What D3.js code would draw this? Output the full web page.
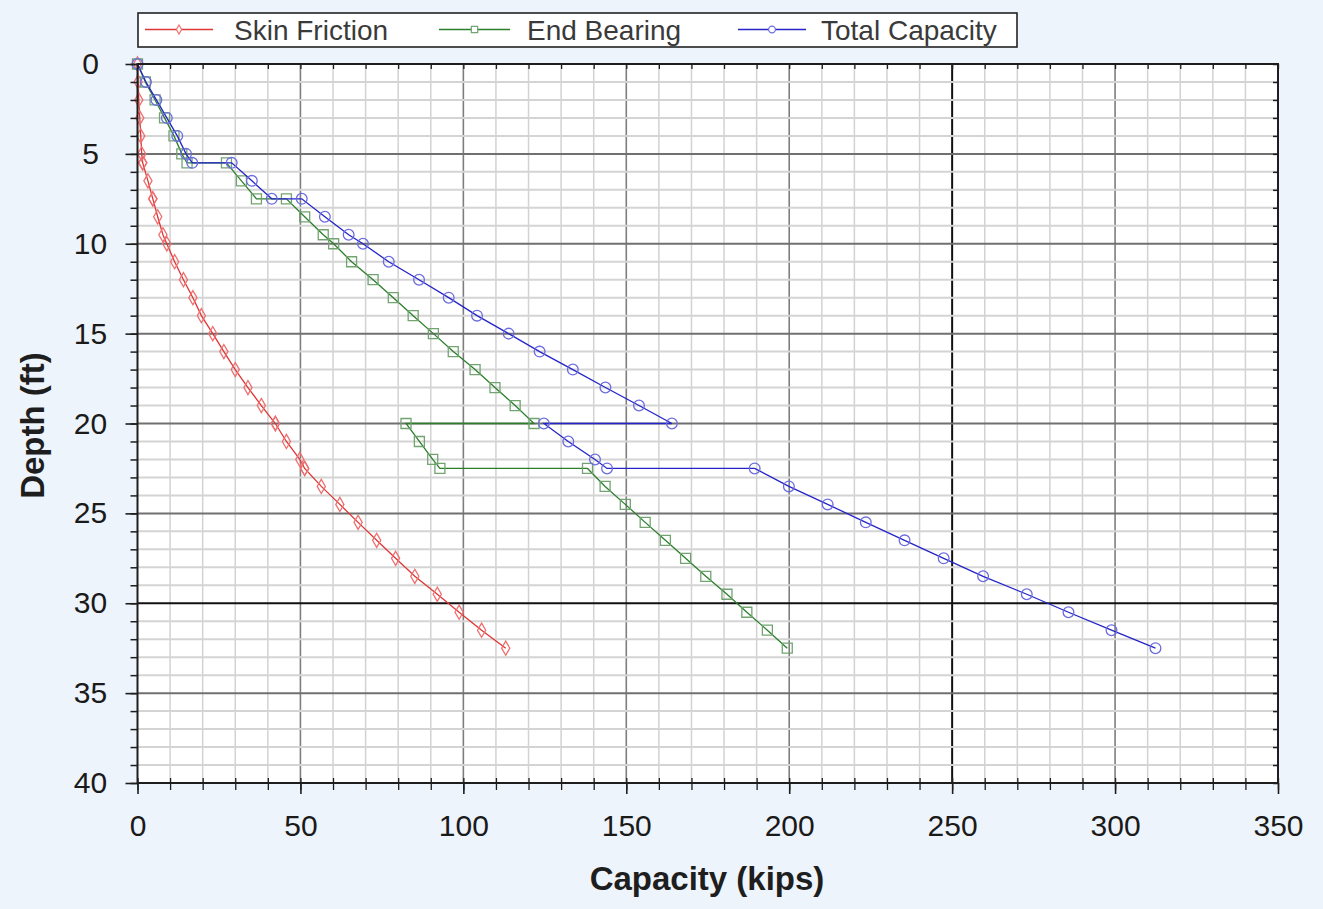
<!DOCTYPE html>
<html>
<head>
<meta charset="utf-8">
<script src="https://cdn.jsdelivr.net/npm/d3@7"></script>
<style>
  html, body { margin: 0; padding: 0; background: #eef4fb; }
  svg { display: block; font-family: "Liberation Sans", Arial, sans-serif; }
</style>
</head>
<body>
<svg id="chart" width="1323" height="909"></svg>
<script>
// Pile capacity vs. depth
const depthFt = [0, 1, 2, 3, 4, 5, 5.5, 5.5, 6.5, 7.5, 7.5, 8.5, 9.5, 10, 11, 12, 13, 14, 15, 16, 17, 18, 19, 20, 20, 21, 22, 22.5, 22.5, 23.5, 24.5, 25.5, 26.5, 27.5, 28.5, 29.5, 30.5, 31.5, 32.5];
const skinFriction = [0, 0.2, 0.4, 0.7, 1.0, 1.3, 1.6, 1.6, 3.2, 4.7, 4.7, 6.2, 7.8, 9.0, 11.4, 14.1, 17.0, 19.6, 23.1, 26.5, 30.0, 33.9, 38.0, 42.3, 42.3, 45.7, 49.8, 51.3, 51.3, 56.4, 62.1, 67.7, 73.4, 79.2, 85.1, 92.0, 98.7, 105.6, 113.0];
const endBearing = [0, 2.4, 5.4, 8.3, 11.2, 13.6, 15.2, 27.3, 31.9, 36.5, 45.7, 51.3, 57.0, 60.2, 65.7, 72.3, 78.5, 84.6, 90.8, 96.9, 103.6, 109.7, 115.9, 121.7, 82.4, 86.5, 90.6, 92.8, 138.1, 143.5, 149.7, 155.8, 162.0, 168.2, 174.4, 180.9, 187.0, 193.3, 199.4];
const totalCapacity = [0, 2.6, 5.8, 9.0, 12.2, 14.9, 16.8, 28.9, 35.1, 41.2, 50.4, 57.5, 64.8, 69.2, 77.1, 86.4, 95.5, 104.2, 113.9, 123.4, 133.6, 143.6, 153.9, 164.0, 124.7, 132.2, 140.4, 144.1, 189.4, 199.9, 211.8, 223.5, 235.4, 247.4, 259.5, 272.9, 285.7, 298.9, 312.4];

const seriesNames = ["Skin Friction", "End Bearing", "Total Capacity"];
const xTickValues = [0, 50, 100, 150, 200, 250, 300, 350];
const yTickValues = [0, 5, 10, 15, 20, 25, 30, 35, 40];
const xTitle = "Capacity (kips)";
const yTitle = "Depth (ft)";

const plot = { left: 137.5, right: 1278, top: 64, bottom: 783 };

const svg = d3.select("#chart");
const x = d3.scaleLinear().domain([0, 350]).range([plot.left, plot.right]);
const y = d3.scaleLinear().domain([0, 40]).range([plot.top, plot.bottom]);

// plot background
svg.append("rect")
  .attr("x", plot.left).attr("y", plot.top)
  .attr("width", plot.right - plot.left).attr("height", plot.bottom - plot.top)
  .attr("fill", "#ffffff");

const grid = svg.append("g");
const minorX = d3.range(0, 351, 10).filter(v => v % 50 !== 0);
const minorY = d3.range(0, 41, 1).filter(v => v % 5 !== 0);

// vertical grid
grid.selectAll(".vmin").data(minorX).enter().append("line")
  .attr("x1", d => x(d)).attr("x2", d => x(d))
  .attr("y1", plot.top).attr("y2", plot.bottom)
  .attr("stroke", "#d2d2d2").attr("stroke-width", 1.5);
grid.selectAll(".vmaj").data(xTickValues.filter(v => v > 0 && v < 350)).enter().append("line")
  .attr("x1", d => x(d)).attr("x2", d => x(d))
  .attr("y1", plot.top).attr("y2", plot.bottom)
  .attr("stroke", d => d === 250 ? "#111111" : "#7e7e7e")
  .attr("stroke-width", d => d === 250 ? 2 : 1.6);

// horizontal grid
grid.selectAll(".hmin").data(minorY).enter().append("line")
  .attr("x1", plot.left).attr("x2", plot.right)
  .attr("y1", d => y(d)).attr("y2", d => y(d))
  .attr("stroke", "#d4d4d4").attr("stroke-width", 2);
grid.selectAll(".hmaj").data(yTickValues.filter(v => v > 0 && v < 40)).enter().append("line")
  .attr("x1", plot.left).attr("x2", plot.right)
  .attr("y1", d => y(d)).attr("y2", d => y(d))
  .attr("stroke", d => d === 30 ? "#111111" : "#707070")
  .attr("stroke-width", 2);

// series
const rows = depthFt.map((d, i) => ({ depth: d, skin: skinFriction[i], end: endBearing[i], total: totalCapacity[i] }));
const series = [
  { name: seriesNames[0], key: "skin",  line: "#e03535", mark: "#ee7070", shape: d3.symbolDiamond, size: 58 },
  { name: seriesNames[1], key: "end",   line: "#2a7f2a", mark: "#72a472", shape: d3.symbolSquare,  size: 100 },
  { name: seriesNames[2], key: "total", line: "#2424c8", mark: "#6c6ce0", shape: d3.symbolCircle,  size: 90 }
];

series.forEach(s => {
  const g = svg.append("g");
  const line = d3.line().x(r => x(r[s.key])).y(r => y(r.depth));
  g.append("path").datum(rows)
    .attr("d", line)
    .attr("fill", "none")
    .attr("stroke", s.line)
    .attr("stroke-width", 1.3);
  g.selectAll("path.m").data(rows).enter().append("path")
    .attr("class", "m")
    .attr("transform", r => `translate(${x(r[s.key])},${y(r.depth)})`)
    .attr("d", d3.symbol().type(s.shape).size(s.size))
    .attr("fill", "none")
    .attr("stroke", s.mark)
    .attr("stroke-width", 1.3);
});

// frame
svg.append("rect")
  .attr("x", plot.left).attr("y", plot.top)
  .attr("width", plot.right - plot.left).attr("height", plot.bottom - plot.top)
  .attr("fill", "none").attr("stroke", "#1e1e1e").attr("stroke-width", 2);

const tickColor = "#1e1e1e";

// bottom axis
const xAxisMinor = svg.append("g").attr("transform", `translate(0,${plot.bottom})`)
  .call(d3.axisBottom(x).tickValues(d3.range(0, 351, 10)).tickSize(7).tickFormat(""));
xAxisMinor.select(".domain").remove();
xAxisMinor.selectAll(".tick line").attr("y1", -5).attr("stroke", tickColor).attr("stroke-width", 1.3);

const xAxis = svg.append("g").attr("transform", `translate(0,${plot.bottom})`)
  .call(d3.axisBottom(x).tickValues(xTickValues).tickSize(11).tickPadding(21));
xAxis.select(".domain").remove();
xAxis.selectAll(".tick line").attr("stroke", tickColor).attr("stroke-width", 1.6);
xAxis.selectAll(".tick text")
  .attr("fill", "#1a1a1a").style("font-size", "30px")
  .style("font-family", "'Liberation Sans', Arial, sans-serif");

// top ticks (inward)
const xTop = svg.append("g").attr("transform", `translate(0,${plot.top})`)
  .call(d3.axisTop(x).tickValues(d3.range(0, 351, 10)).tickSize(-5).tickFormat(""));
xTop.select(".domain").remove();
xTop.selectAll(".tick line").attr("stroke", tickColor).attr("stroke-width", 1.3);

// left axis
const yAxisMinor = svg.append("g").attr("transform", `translate(${plot.left},0)`)
  .call(d3.axisLeft(y).tickValues(d3.range(0, 41, 1)).tickSize(7).tickFormat(""));
yAxisMinor.select(".domain").remove();
yAxisMinor.selectAll(".tick line").attr("stroke", tickColor).attr("stroke-width", 1.5);

const yAxis = svg.append("g").attr("transform", `translate(${plot.left},0)`)
  .call(d3.axisLeft(y).tickValues(yTickValues).tickSize(12).tickPadding(10));
yAxis.select(".domain").remove();
yAxis.selectAll(".tick line").attr("stroke", tickColor).attr("stroke-width", 1.6);
yAxis.selectAll(".tick text")
  .attr("text-anchor", "middle").attr("x", -47)
  .attr("fill", "#1a1a1a").style("font-size", "30px")
  .style("font-family", "'Liberation Sans', Arial, sans-serif");

// right ticks (inward)
const yRight = svg.append("g").attr("transform", `translate(${plot.right},0)`)
  .call(d3.axisRight(y).tickValues(d3.range(0, 41, 1)).tickSize(-5).tickFormat(""));
yRight.select(".domain").remove();
yRight.selectAll(".tick line").attr("stroke", tickColor).attr("stroke-width", 1.5);

// axis titles
svg.append("text")
  .attr("x", 707).attr("y", 890)
  .attr("text-anchor", "middle")
  .attr("fill", "#1e1e1e")
  .style("font-size", "33px").style("font-weight", "bold")
  .text(xTitle);
svg.append("text")
  .attr("transform", `translate(44,${(plot.top + plot.bottom) / 2 + 2}) rotate(-90)`)
  .attr("text-anchor", "middle")
  .attr("fill", "#1e1e1e")
  .style("font-size", "33px").style("font-weight", "bold")
  .text(yTitle);

// legend
const legend = svg.append("g");
legend.append("rect")
  .attr("x", 138).attr("y", 13).attr("width", 879).attr("height", 34)
  .attr("fill", "#ffffff").attr("stroke", "#222222").attr("stroke-width", 1.6);
const legendPos = [
  { x1: 145, x2: 213, tx: 234 },
  { x1: 439, x2: 510, tx: 527 },
  { x1: 738, x2: 806, tx: 821 }
];
series.forEach((s, i) => {
  const p = legendPos[i];
  legend.append("line")
    .attr("x1", p.x1).attr("x2", p.x2).attr("y1", 29.5).attr("y2", 29.5)
    .attr("stroke", s.line).attr("stroke-width", 1.4);
  legend.append("path")
    .attr("transform", `translate(${(p.x1 + p.x2) / 2},29.5)`)
    .attr("d", d3.symbol().type(s.shape).size(s.size * 0.4))
    .attr("fill", "#ffffff").attr("stroke", s.mark).attr("stroke-width", 1.2);
  legend.append("text")
    .attr("x", p.tx).attr("y", 39.5)
    .attr("fill", "#3a3a3a")
    .style("font-size", "28px")
    .text(s.name);
});
</script>
</body>
</html>
